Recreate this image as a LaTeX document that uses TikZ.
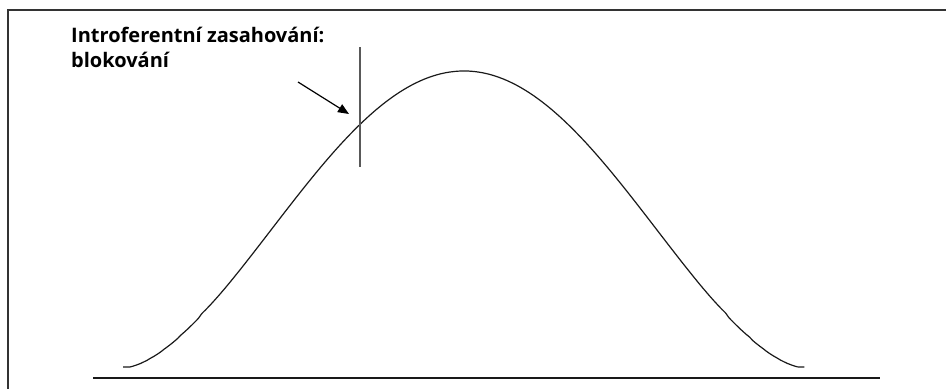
\documentclass[tikz,border=0pt]{standalone}
\usepackage{fontspec}
\setmainfont{Open Sans}
\usetikzlibrary{arrows.meta}
\begin{document}
\begin{tikzpicture}[x=1pt,y=-1pt,
  frameline/.style={line width=2pt,draw=black!80},
  axisline/.style={line width=1.8pt,draw=black!90},
  curveline/.style={line width=1.2pt,draw=black!90},
  markline/.style={line width=1.8pt,draw=black!65},
  pointer/.style={line width=1.2pt,draw=black,-{Triangle[length=11pt,width=9pt]}},
  label/.style={font=\fontsize{20}{25}\selectfont\bfseries,align=left,inner sep=0pt,anchor=base west}]
\useasboundingbox (0,0) rectangle (946,389);
\coordinate (ftl) at (8,9.5);
\coordinate (ftr) at (946,9.5);
\coordinate (fbl) at (8,389);
\draw[frameline] (ftr) -- (ftl) -- (fbl);
\coordinate (bl) at (93,378);
\coordinate (br) at (880,378);
\draw[axisline] (bl) -- (br);
\draw[curveline] plot[domain=-1:1,samples=200,smooth]
  ({464+341*\x},{368-297*exp(0.83*ln(max((1+cos(180*\x))/2,0.001)))});
\coordinate (vt) at (360,47);
\coordinate (vb) at (360,167);
\draw[markline] (vt) -- (vb);
\coordinate (as) at (298,82);
\coordinate (ae) at (349,114);
\draw[pointer] (as) -- (ae);
\node[label] (txt) at (71,67) {Introferentní zasahování:\\blokování};
\end{tikzpicture}
\end{document}
